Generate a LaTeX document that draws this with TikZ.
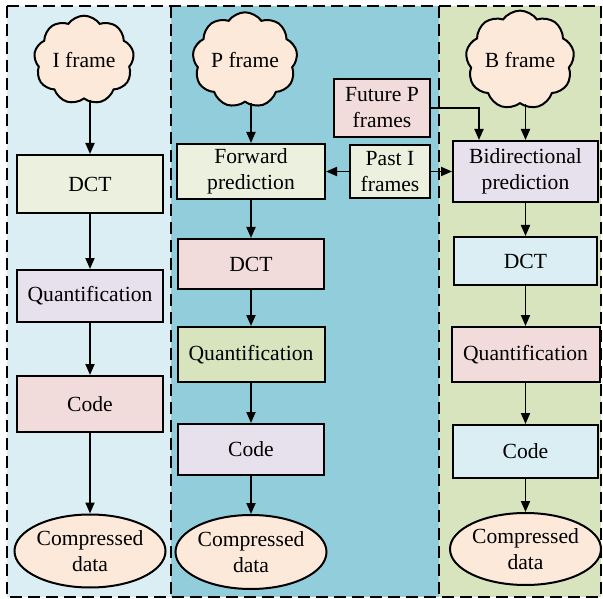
\documentclass[tikz,border=0pt]{standalone}
\usepackage{fontspec}
\setmainfont{Liberation Serif}
\newfontfamily\diagfont{Liberation Serif}
\usetikzlibrary{shapes.symbols,shapes.geometric,arrows.meta}

\definecolor{bandL}{HTML}{DAEEF3}
\definecolor{bandM}{HTML}{92CDDC}
\definecolor{bandR}{HTML}{D7E4BD}
\definecolor{peach}{HTML}{FDE9D9}
\definecolor{paleGreen}{HTML}{EBF1DE}
\definecolor{lavender}{HTML}{E6E1EC}
\definecolor{pink}{HTML}{F2DCDB}
\definecolor{oliveGreen}{HTML}{D7E4BD}
\definecolor{iceBlue}{HTML}{DAEEF3}

\tikzset{
  stagebox/.style={draw=black, line width=2pt, rectangle, align=center,
    inner sep=0pt, minimum width=#1},
  stagebox/.default=146pt,
  framecloud/.style={draw=black, line width=2pt, cloud, cloud puffs=9,
    cloud puff arc=110, aspect=1.15, fill=peach, inner sep=0pt,
    minimum width=100pt, minimum height=86pt},
  outblob/.style={draw=black, line width=2pt, ellipse, fill=peach,
    align=center, inner sep=0pt},
  flow/.style={line width=1.9pt, -{Triangle[length=11pt,width=9pt]}},
  bandedge/.style={line width=2pt, dash pattern=on 12pt off 6pt},
}

\begin{document}
\begin{tikzpicture}[x=1pt, y=-1pt, font=\diagfont\fontsize{21.6}{26}\selectfont]
\useasboundingbox (0,0) rectangle (603,599);

% column backgrounds
\fill[bandL] (7,6) rectangle (171,597);
\fill[bandM] (171,6) rectangle (439,597);
\fill[bandR] (439,6) rectangle (601,597);
\draw[bandedge] (7,6) rectangle (601,597);
\draw[bandedge] (171,6) -- (171,597);
\draw[bandedge] (439,6) -- (439,597);

% I frame column
\node[framecloud] (icloud) at (84,60) {I frame};
\node[stagebox, fill=paleGreen, minimum height=58pt] (ldct) at (90,184) {DCT};
\node[stagebox, fill=lavender, minimum height=52pt] (lquant) at (90,296) {Quantification};
\node[stagebox, fill=pink, minimum height=56pt] (lcode) at (90,404) {Code};
\node[outblob, minimum width=151pt, minimum height=73pt] (lcomp) at (90,551) {Compressed\\data};

% P frame column
\node[framecloud] (pcloud) at (245,60) {P frame};
\node[stagebox=148pt, fill=paleGreen, minimum height=55pt] (fwd) at (251,171.5) {Forward\\prediction};
\node[stagebox, fill=pink, minimum height=50pt] (mdct) at (251,264) {DCT};
\node[stagebox=147pt, fill=oliveGreen, minimum height=55pt] (mquant) at (251,354.5) {Quantification};
\node[stagebox, fill=lavender, minimum height=51pt] (mcode) at (251,449.5) {Code};
\node[outblob, minimum width=143pt, minimum height=74pt] (mcomp) at (251,552) {Compressed\\data};

% reference frames
\node[stagebox=96pt, fill=pink, minimum height=58pt] (fut) at (382,108) {Future P\\frames};
\node[stagebox=80pt, fill=paleGreen, minimum height=53pt] (past) at (390,171.5) {Past I\\frames};

% B frame column
\node[framecloud] (bcloud) at (520,60) {B frame};
\node[stagebox=145pt, fill=lavender, minimum height=61pt] (bid) at (525.5,171.5) {Bidirectional\\prediction};
\node[stagebox=143pt, fill=iceBlue, minimum height=48pt] (rdct) at (525.5,261) {DCT};
\node[stagebox=148pt, fill=pink, minimum height=55pt] (rquant) at (525.5,354.5) {Quantification};
\node[stagebox=145pt, fill=iceBlue, minimum height=53pt] (rcode) at (525.5,451.5) {Code};
\node[outblob, minimum width=143pt, minimum height=72pt] (rcomp) at (525.5,549) {Compressed\\data};

% I frame flow
\draw[flow] (icloud.south -| ldct.north) -- (ldct.north);
\draw[flow] (ldct.south) -- (lquant.north);
\draw[flow] (lquant.south) -- (lcode.north);
\draw[flow] (lcode.south) -- (lcomp.north);

% P frame flow
\draw[flow] (pcloud.south -| fwd.north) -- (fwd.north);
\draw[flow] (fwd.south) -- (fwd.south |- mdct.north);
\draw[flow] (mdct.south) -- (mdct.south |- mquant.north);
\draw[flow] (mquant.south) -- (mquant.south |- mcode.north);
\draw[flow] (mcode.south) -- (mcode.south |- mcomp.north);

% B frame flow
\draw[flow] (bcloud.south -| bid.north) -- (bid.north);
\draw[flow] (bid.south) -- (bid.south |- rdct.north);
\draw[flow] (rdct.south) -- (rdct.south |- rquant.north);
\draw[flow] (rquant.south) -- (rquant.south |- rcode.north);
\draw[flow] (rcode.south) -- (rcode.south |- rcomp.north);

% references
\draw[flow] (fut.east) -| ([xshift=-46.5pt]bid.north);
\draw[flow] (past.west) -- (fwd.east);
\draw[flow] (past.east) -- (bid.west);
\end{tikzpicture}
\end{document}
